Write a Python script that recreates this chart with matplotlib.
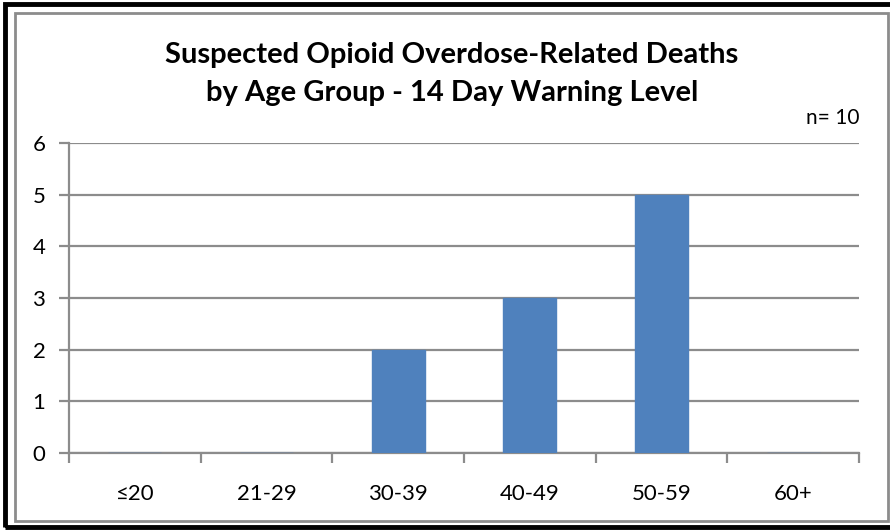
import matplotlib.pyplot as plt
from matplotlib.patches import Rectangle

age_groups = ['≤20', '21-29', '30-39', '40-49', '50-59', '60+']
deaths = [0, 0, 2, 3, 5, 0]
y_ticks = [0, 1, 2, 3, 4, 5, 6]
n_total = 10

W, H = 890, 530
fig = plt.figure(figsize=(W / 100, H / 100), dpi=100)
plt.rcParams['font.family'] = ['Lato', 'DejaVu Sans']

# plot area in pixels: x 69..859, y 143..453
ax = fig.add_axes([69 / W, (H - 453) / H, (859 - 69) / W, (453 - 143) / H])

x = list(range(len(age_groups)))
ax.bar(x, deaths, width=0.4, color='#4F81BD', edgecolor='#4F81BD', zorder=3)

ax.set_xlim(-0.5, len(age_groups) - 0.5)
ax.set_ylim(0, 6)
ax.set_yticks(y_ticks)
ax.yaxis.grid(True, color='#8C8C8C', linewidth=1.6, zorder=0)
ax.set_axisbelow(True)

for s in ['top', 'right']:
    ax.spines[s].set_visible(False)
for s in ['left', 'bottom']:
    ax.spines[s].set_color('#8C8C8C')
    ax.spines[s].set_linewidth(1.6)

ax.tick_params(axis='y', length=7, width=1.6, color='#8C8C8C', labelsize=16, pad=10)
ax.set_yticklabels([str(v) for v in y_ticks])

# category labels centered, tick marks between categories
ax.set_xticks(x)
ax.set_xticklabels(age_groups, fontsize=16)
ax.tick_params(axis='x', which='major', length=0, pad=22)
ax.set_xticks([i - 0.5 for i in range(len(age_groups) + 1)], minor=True)
ax.tick_params(axis='x', which='minor', length=7, width=1.6, color='#8C8C8C')

fig.text(452 / W, 1 - 74 / H,
         'Suspected Opioid Overdose-Related Deaths\nby Age Group - 14 Day Warning Level',
         ha='center', va='center', fontsize=21, fontweight='bold', linespacing=1.6)
fig.text(859 / W, 1 - 118 / H, f'n= {n_total}', ha='right', va='center', fontsize=15)

# borders
fig.patches.append(Rectangle((15 / W, (H - 521) / H), (888 - 15) / W, (521 - 13) / H,
                             transform=fig.transFigure, fill=False,
                             edgecolor='#8C8C8C', linewidth=2))
fig.patches.append(Rectangle((5 / W, (H - 527) / H), (W + 20) / W, (527 - 4) / H,
                             transform=fig.transFigure, fill=False,
                             edgecolor='black', linewidth=3.5))

fig.savefig('out.png', dpi=100)
